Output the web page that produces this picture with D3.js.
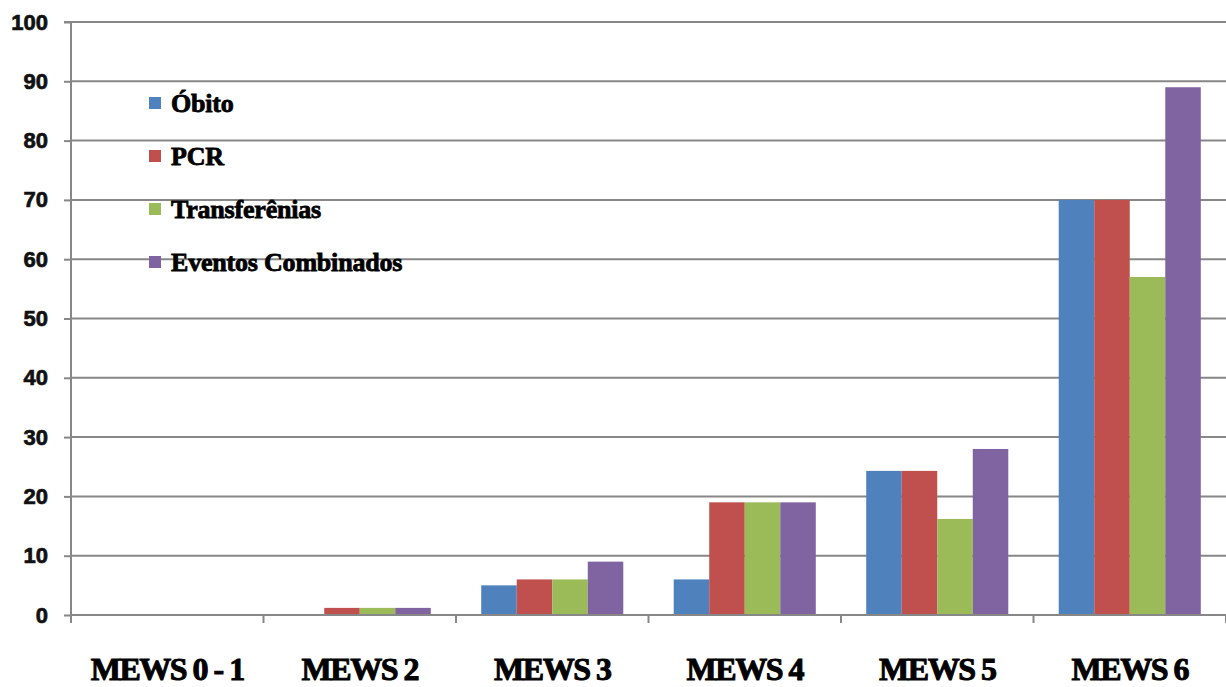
<!DOCTYPE html>
<html><head><meta charset="utf-8">
<script src="https://cdn.jsdelivr.net/npm/d3@7"></script>
<style>body{margin:0;background:#fff}svg{display:block}</style>
</head><body>
<svg id="c" width="1226" height="687"></svg>
<script>
const categories = ["MEWS 0 - 1","MEWS 2","MEWS 3","MEWS 4","MEWS 5","MEWS 6"];
const seriesNames = ["Óbito","PCR","Transferênias","Eventos Combinados"];
const obito = [0, 0, 5, 6, 24.3, 70];
const pcr = [0, 1.2, 6, 19, 24.3, 70];
const transferencias = [0, 1.2, 6, 19, 16.2, 57];
const eventos = [0, 1.2, 9, 19, 28, 89];
const yTicks = [0,10,20,30,40,50,60,70,80,90,100];
const colors = ["#4F81BD","#C0504D","#9BBB59","#8064A2"];
const seriesValues = [obito, pcr, transferencias, eventos];

(function(){
const svg = d3.select("#c");
const mL = 71, mR = 1226, mT = 22, mB = 615;
const x = d3.scaleBand().domain(categories).range([mL, mR]);
const xs = d3.scaleBand().domain(seriesNames).range([0, x.bandwidth()]).paddingOuter(0.71).paddingInner(0);
const y = d3.scaleLinear().domain([0,100]).range([mB, mT]);
const gridColor = "#878787";

// gridlines
svg.append("g").selectAll("line").data(yTicks).join("line")
  .attr("x1", mL).attr("x2", mR)
  .attr("y1", d=>y(d)).attr("y2", d=>y(d))
  .attr("stroke", gridColor).attr("stroke-width", 2);

// bars
const rows = categories.map((c,i)=>({c, vals: seriesValues.map((s,j)=>({name: seriesNames[j], v: s[i], col: colors[j]}))}));
const g = svg.append("g").selectAll("g").data(rows).join("g")
  .attr("transform", d=>`translate(${x(d.c)},0)`);
g.selectAll("rect").data(d=>d.vals.filter(v=>v.v>0)).join("rect")
  .attr("x", d=>xs(d.name)).attr("width", xs.bandwidth())
  .attr("y", d=>y(d.v)).attr("height", d=>y(0)-y(d.v))
  .attr("fill", d=>d.col);

// y axis
const yAxis = svg.append("g").attr("transform",`translate(${mL},0)`)
  .call(d3.axisLeft(y).tickValues(yTicks).tickSize(7).tickPadding(16));
yAxis.select(".domain").attr("stroke", gridColor).attr("stroke-width",2).attr("d", `M-7,${mT}H0V${mB+7}`);
yAxis.selectAll(".tick line").attr("stroke", gridColor).attr("stroke-width",2);
yAxis.selectAll("text").attr("font-family","Liberation Sans, Arial, sans-serif")
  .attr("font-weight","bold").attr("font-size",22).attr("fill","#111")
  .attr("stroke","#111").attr("stroke-width",0.7);

// x axis
const xAxis = svg.append("g").attr("transform",`translate(0,${mB})`);
xAxis.append("line").attr("x1", mL).attr("x2", mR).attr("stroke", gridColor).attr("stroke-width",2);
const bounds = categories.map(c=>x(c)).concat([mR]);
xAxis.selectAll("line.t").data(bounds).join("line").attr("class","t")
  .attr("x1", d=>d).attr("x2", d=>d).attr("y1",0).attr("y2",8)
  .attr("stroke", gridColor).attr("stroke-width",2);
xAxis.selectAll("text").data(categories).join("text")
  .attr("x", d=>x(d)+x.bandwidth()/2).attr("y", 65)
  .attr("text-anchor","middle")
  .attr("font-family","Liberation Serif, Times New Roman, serif")
  .attr("font-weight","bold").attr("font-size",32).attr("letter-spacing","-1.5px")
  .attr("fill","#000").attr("stroke","#000").attr("stroke-width",1)
  .text(d=>d);

// legend
const lg = svg.append("g").selectAll("g").data(seriesNames).join("g")
  .attr("transform",(d,i)=>`translate(149,${103 + i*53})`);
lg.append("rect").attr("x",0).attr("y",-6).attr("width",12).attr("height",12)
  .attr("fill",(d,i)=>colors[i]);
lg.append("text").attr("x",22).attr("y",9)
  .attr("font-family","Liberation Serif, Times New Roman, serif")
  .attr("font-weight","bold").attr("font-size",26).attr("letter-spacing","-0.2px")
  .attr("fill","#000").attr("stroke","#000").attr("stroke-width",0.8)
  .text(d=>d);
})();
</script>
</body></html>
